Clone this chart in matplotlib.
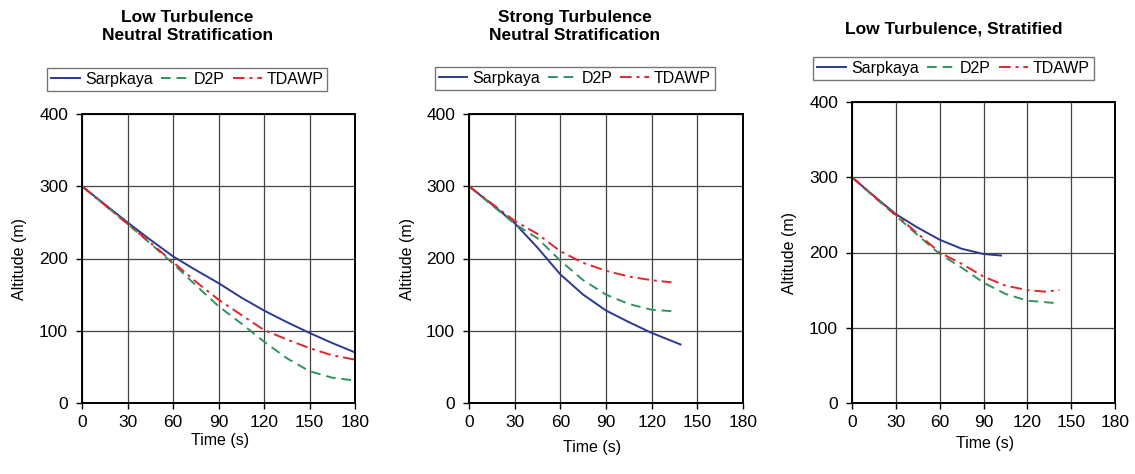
import matplotlib
matplotlib.use("Agg")
import matplotlib.pyplot as plt

plt.rcParams['font.family'] = ['Liberation Sans', 'DejaVu Sans']

# panel 1: low turbulence, neutral stratification
t1 = [0, 15, 30, 45, 60, 75, 90, 105, 120, 135, 150, 165, 180]
sarp1 = [300, 275, 250, 226, 203, 184, 166, 146, 128, 112, 97, 83, 70]
d2p1 = [300, 274, 248, 221, 193, 163, 134, 110, 85, 62, 44, 35, 31]
tdawp1 = [300, 274, 248, 222, 195, 168, 143, 122, 101, 88, 76, 66, 60]

# panel 2: strong turbulence, neutral stratification
t2_sarp = [0, 15, 30, 45, 60, 75, 90, 105, 120, 139]
sarp2 = [300, 275, 249, 215, 178, 150, 128, 112, 97, 81]
t2_d2p = [0, 15, 30, 45, 60, 75, 90, 105, 120, 134]
d2p2 = [300, 274, 248, 228, 197, 170, 150, 137, 129, 127]
t2_tdawp = [0, 15, 30, 45, 60, 75, 90, 105, 120, 133]
tdawp2 = [300, 276, 252, 234, 210, 194, 183, 175, 170, 167]

# panel 3: low turbulence, stratified
t3_sarp = [0, 15, 30, 45, 60, 75, 90, 102]
sarp3 = [300, 275, 251, 233, 217, 205, 198, 196]
t3_d2p = [0, 15, 30, 45, 60, 75, 90, 105, 120, 138]
d2p3 = [300, 274, 249, 223, 198, 180, 160, 145, 136, 133]
t3_tdawp = [0, 15, 30, 45, 60, 75, 90, 105, 120, 132, 142]
tdawp3 = [300, 275, 250, 225, 200, 185, 168, 156, 150, 148, 150]

titles = ["Low Turbulence\nNeutral Stratification",
          "Strong Turbulence\nNeutral Stratification",
          "Low Turbulence, Stratified"]
labels = ["Sarpkaya", "D2P", "TDAWP"]
colors = ["#2b3990", "#2e9460", "#e0262b"]

panels = [
    [(t1, sarp1), (t1, d2p1), (t1, tdawp1)],
    [(t2_sarp, sarp2), (t2_d2p, d2p2), (t2_tdawp, tdawp2)],
    [(t3_sarp, sarp3), (t3_d2p, d2p3), (t3_tdawp, tdawp3)],
]

W, H = 1135, 474
fig = plt.figure(figsize=(W / 100, H / 100), dpi=100)

# pixel boxes: left, right, top, bottom
boxes = [(82, 355, 114, 403), (469, 743, 114, 403), (852, 1115, 102, 403)]
leg_y = [1.08, 1.083, 1.073]
title_y = [1.303, 1.303, 1.243]
title_x = [0.386, 0.386, 0.386]
ylab_x = [-0.2, -0.197, -0.209]
xlab = [(0.505, -0.104), (0.45, -0.128), (0.506, -0.11)]

for i in range(3):
    l, r, t, b = boxes[i]
    ax = fig.add_axes([l / W, (H - b) / H, (r - l) / W, (b - t) / H])
    styles = [dict(ls='-'), dict(ls=(0, (5, 3))), dict(ls=(0, (6, 2.5, 1.5, 2.5)))]
    for (x, y), lab, c, st in zip(panels[i], labels, colors, styles):
        ax.plot(x, y, color=c, lw=1.4, label=lab, **st)
    ax.set_xlim(0, 180)
    ax.set_ylim(0, 400)
    ax.set_xticks(range(0, 181, 30))
    ax.set_yticks(range(0, 401, 100))
    ax.grid(True, color='#444444', lw=0.9)
    ax.set_axisbelow(True)
    for s in ax.spines.values():
        s.set_linewidth(1.4)
    ax.tick_params(labelsize=12.5, length=4, width=1, direction='out')
    ax.tick_params(axis='x', pad=4.5)
    ax.tick_params(axis='y', pad=6)
    ax.set_ylabel("Altitude (m)", fontsize=11.5)
    ax.yaxis.set_label_coords(ylab_x[i], 0.5)
    ax.set_xlabel("Time (s)", fontsize=11.5)
    ax.xaxis.set_label_coords(xlab[i][0], xlab[i][1])
    ax.legend(loc='lower center', bbox_to_anchor=(0.386, leg_y[i]), ncol=3,
              frameon=True, fancybox=False, edgecolor='#555555', fontsize=11.5,
              handlelength=1.8, handletextpad=0.3, columnspacing=0.5,
              borderpad=0.25, borderaxespad=0)
    ax.text(title_x[i], title_y[i], titles[i], transform=ax.transAxes, ha='center',
            va='center', fontsize=12.5, fontweight='bold', linespacing=1.3)

fig.savefig("out.png", dpi=100)
